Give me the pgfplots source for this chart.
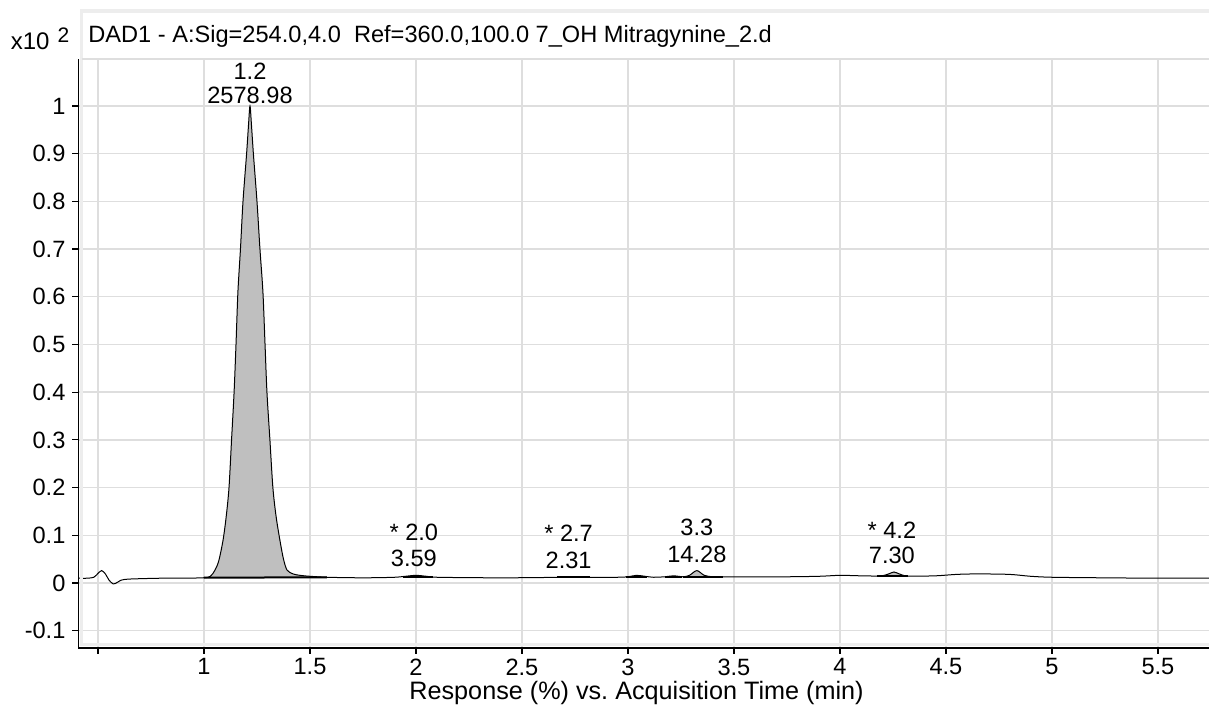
\documentclass[border=0pt]{standalone}
\usepackage{pgfplots}
\pgfplotsset{compat=1.18}
\usepackage{fontspec}
\setmainfont{Liberation Sans}
\usetikzlibrary{calc}

\newcommand{\lbl}{\fontsize{11.8}{14}\selectfont}

\begin{document}
\begin{tikzpicture}
\begin{axis}[
  scale only axis,
  width=565.25pt,
  height=294.5pt,
  xmin=0.408, xmax=5.741,
  ymin=-0.1363, ymax=1.0985,
  axis x line*=bottom,
  axis y line*=left,
  axis line style={black, line width=0.6pt, -},
  tick align=outside,
  major tick length=3pt,
  tick style={black, line width=0.6pt},
  xtick={0.5,1,1.5,2,2.5,3,3.5,4,4.5,5,5.5},
  xticklabels={,1,1.5,2,2.5,3,3.5,4,4.5,5,5.5},
  ytick={-0.1,0,0.1,0.2,0.3,0.4,0.5,0.6,0.7,0.8,0.9,1},
  yticklabels={-0.1,0,0.1,0.2,0.3,0.4,0.5,0.6,0.7,0.8,0.9,1},
  grid=major,
  grid style={color=black!13, line width=0.7pt},
  tick label style={font=\lbl},
  xticklabel style={yshift=1.2pt},
  /pgf/number format/assume math mode=true,
  xlabel={Response (\%) vs.\ Acquisition Time (min)},
  xlabel style={font=\fontsize{12.6}{15}\selectfont, at={(axis description cs:0.4936,0)}, anchor=base, yshift=-26pt},
  clip=false,
]
% shaded peaks
\addplot[fill=gray!50, draw=none, smooth] coordinates {
  (1.000,0.011) (1.030,0.014) (1.052,0.027) (1.070,0.047) (1.090,0.090)
  (1.105,0.140) (1.118,0.200) (1.130,0.300) (1.142,0.400) (1.151,0.500)
  (1.160,0.610) (1.172,0.700) (1.184,0.800) (1.201,0.900) (1.210,0.960)
  (1.217,1.000) (1.224,0.960) (1.233,0.900) (1.250,0.800) (1.264,0.700)
  (1.278,0.610) (1.288,0.500) (1.297,0.400) (1.311,0.300) (1.325,0.200)
  (1.340,0.140) (1.358,0.090) (1.375,0.050) (1.392,0.027) (1.420,0.019)
  (1.453,0.016) (1.500,0.014) (1.580,0.012)
} -- cycle;
\addplot[fill=gray!50, draw=none, smooth] coordinates {
  (3.26,0.013) (3.29,0.016) (3.325,0.026) (3.36,0.016) (3.40,0.013) (3.45,0.013)
} -- cycle;
\addplot[fill=gray!50, draw=none, smooth] coordinates {
  (4.175,0.0145) (4.20,0.015) (4.23,0.019) (4.255,0.023) (4.28,0.019) (4.32,0.0145)
} -- cycle;
% integration baselines
\addplot[black, line width=1pt] coordinates {(1.00,0.011) (1.58,0.012)};
\addplot[black, line width=1pt] coordinates {(1.94,0.013) (2.08,0.013)};
\addplot[black, line width=1pt] coordinates {(2.665,0.012) (2.82,0.012)};
\addplot[black, line width=1pt] coordinates {(2.99,0.013) (3.09,0.013)};
\addplot[black, line width=1pt] coordinates {(3.175,0.013) (3.255,0.013)};
\addplot[black, line width=1pt] coordinates {(3.26,0.013) (3.45,0.013)};
\addplot[black, line width=1pt] coordinates {(4.175,0.0145) (4.32,0.0145)};
% signal trace
\addplot[black, line width=0.5pt, smooth] coordinates {
  (0.410,0.010) (0.45,0.010) (0.48,0.012) (0.50,0.020) (0.517,0.026)
  (0.535,0.019) (0.552,0.006) (0.572,-0.002) (0.59,0.001) (0.61,0.006)
  (0.64,0.008) (0.70,0.009) (0.80,0.010) (0.90,0.010)
  (1.000,0.011) (1.030,0.014) (1.052,0.027) (1.070,0.047) (1.090,0.090)
  (1.105,0.140) (1.118,0.200) (1.130,0.300) (1.142,0.400) (1.151,0.500)
  (1.160,0.610) (1.172,0.700) (1.184,0.800) (1.201,0.900) (1.210,0.960)
  (1.217,1.000) (1.224,0.960) (1.233,0.900) (1.250,0.800) (1.264,0.700)
  (1.278,0.610) (1.288,0.500) (1.297,0.400) (1.311,0.300) (1.325,0.200)
  (1.340,0.140) (1.358,0.090) (1.375,0.050) (1.392,0.027) (1.420,0.019)
  (1.453,0.016) (1.500,0.014) (1.580,0.012)
  (1.70,0.011) (1.80,0.011) (1.90,0.012) (1.95,0.014) (2.00,0.016)
  (2.05,0.014) (2.10,0.012) (2.30,0.011) (2.50,0.011) (2.70,0.012)
  (2.80,0.012) (2.95,0.012) (3.00,0.013) (3.04,0.016) (3.08,0.014)
  (3.12,0.012) (3.175,0.013) (3.215,0.015) (3.26,0.013) (3.29,0.016)
  (3.325,0.026) (3.36,0.016) (3.40,0.013) (3.45,0.013) (3.60,0.013)
  (3.75,0.013) (3.90,0.014) (4.00,0.016) (4.10,0.015) (4.175,0.0145)
  (4.20,0.015) (4.23,0.019) (4.255,0.023) (4.28,0.019) (4.32,0.0145)
  (4.45,0.015) (4.55,0.018) (4.65,0.019) (4.80,0.018) (4.90,0.014)
  (5.00,0.012) (5.20,0.011) (5.50,0.010) (5.741,0.010)
};
% peak labels
\node[anchor=base, font=\lbl] at (axis cs:1.217,1.0545) {1.2};
\node[anchor=base, font=\lbl] at (axis cs:1.217,1.006) {2578.98};
\node[anchor=base, font=\lbl] at (axis cs:1.99,0.0887) {* 2.0};
\node[anchor=base, font=\lbl] at (axis cs:1.99,0.034) {3.59};
\node[anchor=base, font=\lbl] at (axis cs:2.72,0.0866) {* 2.7};
\node[anchor=base, font=\lbl] at (axis cs:2.72,0.0314) {2.31};
\node[anchor=base, font=\lbl] at (axis cs:3.325,0.0985) {3.3};
\node[anchor=base, font=\lbl] at (axis cs:3.325,0.0426) {14.28};
\node[anchor=base, font=\lbl] at (axis cs:4.245,0.0943) {* 4.2};
\node[anchor=base, font=\lbl] at (axis cs:4.245,0.0398) {7.30};
% frame and title strip
\draw[black!7, line width=1.75pt] (axis cs:5.80,-0.1289) -- (axis cs:0.4222,-0.1289)
  -- (axis cs:0.4222,1.1992) -- (axis cs:5.80,1.1992);
\draw[black!13, line width=0.6pt] (axis cs:0.4222,1.0985) -- (axis cs:5.80,1.0985);
\node[anchor=base west, font=\lbl, inner sep=0pt] at ($(rel axis cs:0,1)+(4.75pt,8pt)$)
  {DAD1 - A:Sig=254.0,4.0\ \ Ref=360.0,100.0 7\_OH Mitragynine\_2.d};
\node[anchor=base west, font=\fontsize{12}{14}\selectfont, inner sep=0pt] at ($(rel axis cs:0,1)+(-34pt,4.5pt)$)
  {x10\hspace{4pt}\raisebox{3.8pt}{\fontsize{10.5}{12}\selectfont 2}};
\coordinate (bl) at (rel axis cs:0,0);
\coordinate (tr) at (rel axis cs:1,1);
\end{axis}
\pgfresetboundingbox
\useasboundingbox ($(bl)+(-39.25pt,-30pt)$) rectangle ($(tr)+(0pt,29.5pt)$);
\end{tikzpicture}
\end{document}
